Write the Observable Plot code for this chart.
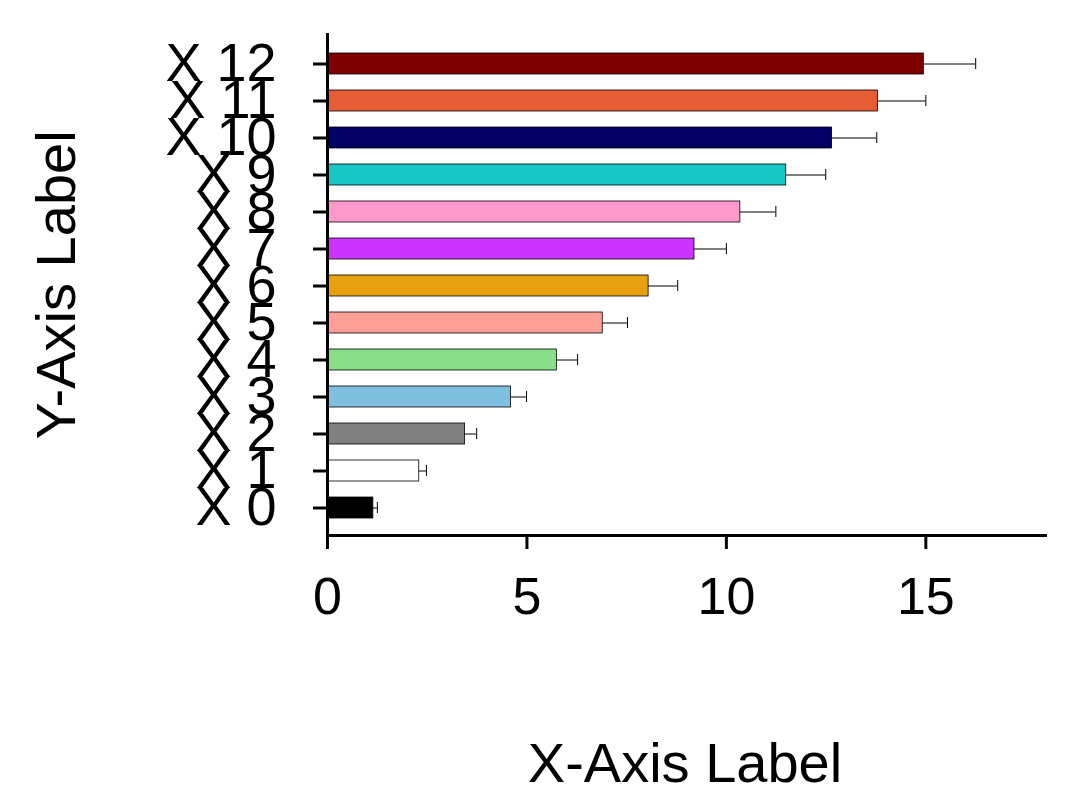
<!DOCTYPE html>
<html><head>
<script src="https://cdn.jsdelivr.net/npm/d3@7"></script>
<script src="https://cdn.jsdelivr.net/npm/@observablehq/plot@0.6"></script>
<style>body{margin:0;background:#fff}</style>
</head><body><div id="c"></div>
<script>
const categories = ["X 0","X 1","X 2","X 3","X 4","X 5","X 6","X 7","X 8","X 9","X 10","X 11","X 12"];
const values = [1.15,2.3,3.45,4.6,5.75,6.9,8.05,9.2,10.35,11.5,12.65,13.8,14.95];
const errors = [0.1,0.18,0.29,0.39,0.52,0.62,0.73,0.8,0.89,0.99,1.12,1.2,1.3];
const colors = ["#000000","#ffffff","#808080","#7fbfdf","#88dd88","#ffa098","#e6a010","#cc33ff","#ff99cc","#17c7c7","#000066","#e65c33","#800000"];
const xTicks = [0,5,10,15];
const data = categories.map((c,i)=>({c, v:values[i], e:values[i]+errors[i], col:colors[i]}));
const font = "Liberation Sans, Arial, sans-serif";
const chart = Plot.plot({
  width:1078, height:811,
  marginLeft:327, marginRight:33, marginTop:35, marginBottom:276,
  style:{fontFamily:font, background:"#fff"},
  x:{domain:[0,18]},
  y:{domain:categories.slice().reverse(), padding:0.44, paddingOuter:0.45},
  color:{type:"identity"},
  marks:[
    Plot.barX(data,{y:"c", x:"v", fill:"col", stroke:"black", strokeWidth:0.8}),
    Plot.ruleY(data,{y:"c", x1:"v", x2:"e", stroke:"black", strokeWidth:1}),
    Plot.tickX(data,{y:"c", x:"e", stroke:"black", strokeWidth:1, inset:5}),
    Plot.axisY({tickSize:14, tickPadding:37, fontSize:54, strokeWidth:3, tickFormat:d=>d, label:null}),
    Plot.axisX({ticks:xTicks, tickSize:14, tickPadding:28, fontSize:52, strokeWidth:3, label:null}),
    Plot.ruleX([0],{stroke:"black", strokeWidth:3, insetTop:-2, insetBottom:-10}),
    Plot.frame({anchor:"bottom", stroke:"black", strokeWidth:3})
  ]
});
const svg = d3.select(chart);
svg.append("text").attr("x",685).attr("y",782).attr("text-anchor","middle")
  .attr("font-size",56).attr("font-family",font).text("X-Axis Label");
svg.append("text").attr("transform","translate(75,285) rotate(-90)").attr("text-anchor","middle")
  .attr("font-size",56).attr("font-family",font).text("Y-Axis Label");
document.getElementById("c").append(chart);
</script></body></html>
